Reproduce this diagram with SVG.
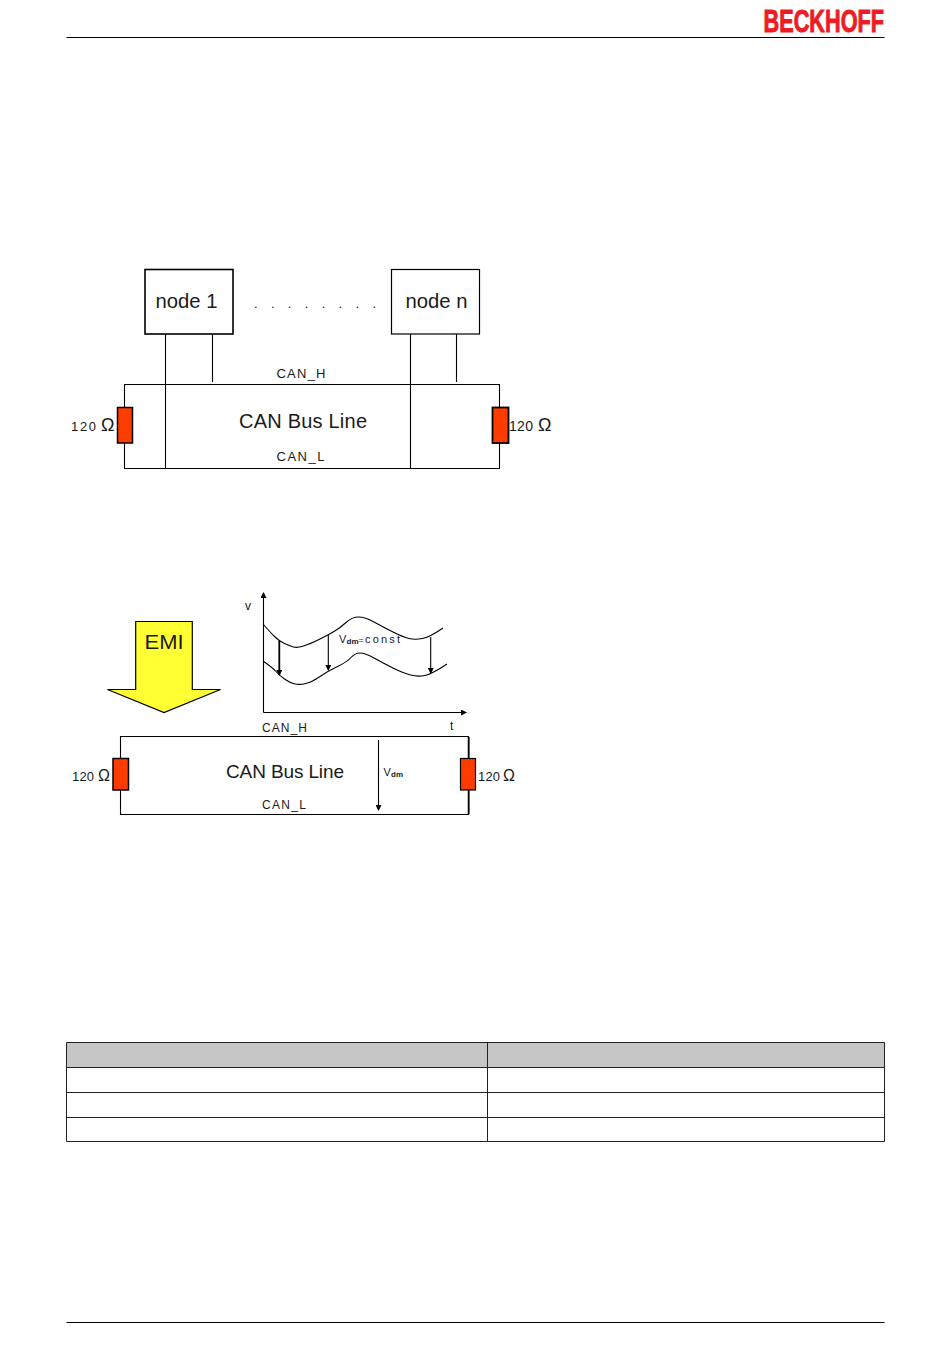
<svg xmlns="http://www.w3.org/2000/svg" width="950" height="1369" viewBox="0 0 950 1369">
<defs>
<marker id="ah" markerWidth="6" markerHeight="6" refX="5" refY="3" orient="auto" markerUnits="userSpaceOnUse"><path d="M0,0 L6,3 L0,6 Z" fill="#000"/></marker>
</defs>
<style>
text{font-family:"Liberation Sans",Arial,sans-serif;fill:#1a1a1a}
.o{font-size:18px}
.l{fill:none;stroke:#000;stroke-width:1.1}
.a{fill:none;stroke:#000;stroke-width:1.1;marker-end:url(#ah)}
.box{fill:#fff;stroke:#000;stroke-width:1.2}
.r{fill:#ff3c00;stroke:#000;stroke-width:1.5}
.t{fill:none;stroke:#222;stroke-width:1}
.s{font-size:8px;font-weight:700}
</style>
<rect width="950" height="1369" fill="#fff"/>
<g id="header">
<text x="763.500" y="32" font-size="32" font-weight="700" textLength="120.500" lengthAdjust="spacingAndGlyphs" style="fill:#ed1c24;stroke:#ed1c24;stroke-width:1">BECKHOFF</text>
<path class="l" d="M66.500 37.500H884.500"/>
</g>
<g id="footer"><path class="l" d="M66.500 1322.500H884.500"/></g>

<g id="connectors">
<path class="l" d="M124.500 407V384.500H499.500V407M124.500 443V468.500H499.500V443"/>
<path class="l" d="M165.500 334V468.500M212.500 334V382M410.500 334V468.500M456.500 334V382"/>
<path class="l" d="M120.500 758V736.500H468.500V758M120.500 790V814.500H468.500V790"/>
<path class="l" style="stroke-width:1.8" d="M468.700 737V758M468.700 790V814"/>
<path class="a" d="M378.500 740V810"/>
<path class="a" d="M263.500 712.500V593"/>
<path class="a" d="M263.500 712.500H466"/>
<path class="l" d="M263 624Q270 632 274.500 636.500Q279 641 284.500 643.500Q290 646 293.500 647Q297 648 303.500 646Q310 644 319 639.500Q328 635 334 631.500Q340 628 346 622.500Q352 617 358.500 617Q365 617 374 622Q383 627 393 632Q403 637 409 638.500Q415 640 422.500 638.500Q430 637 443 628"/>
<path class="l" d="M263 661Q273 668 276 671.500Q279 675 284.500 679Q290 683 295 684Q300 685 306 683.500Q312 682 320 676.500Q328 671 337.500 666.500Q347 662 351 657.500Q355 653 360 653Q365 653 374 658Q383 663 393 668Q403 673 410.500 675Q418 677 425 675.500Q432 674 447 664"/>
<path class="a" style="stroke-width:1.8" d="M279.300 641V675"/>
<path class="a" d="M328.300 635V670"/>
<path class="a" d="M430.700 637V673"/>
</g>

<g id="node1"><rect class="box" style="stroke-width:1.6" x="145" y="269.500" width="88" height="64.500"/><text x="155.500" y="308" font-size="19.500" textLength="62" lengthAdjust="spacingAndGlyphs">node 1</text></g>
<g id="noden"><rect class="box" x="391.500" y="269.500" width="88" height="64.500"/><text x="405.500" y="308" font-size="19.500" textLength="62" lengthAdjust="spacingAndGlyphs">node n</text></g>
<g id="dots"><text x="254" y="308" font-size="13" textLength="122">. . . . . . . .</text></g>
<g id="bus1">
<text x="239" y="428" font-size="20" textLength="128">CAN Bus Line</text>
<text x="276.500" y="378" font-size="13" textLength="49">CAN_H</text>
<text x="276.500" y="461" font-size="13" textLength="48">CAN_L</text>
</g>
<g id="r1"><rect class="r" x="117.500" y="407.500" width="15" height="35.500"/><text x="71" y="431" font-size="13"><tspan textLength="25">120</tspan><tspan class="o" x="101">Ω</tspan></text></g>
<g id="r2"><rect class="r" style="stroke-width:1.8" x="492.500" y="407.500" width="16" height="35.500"/><text x="509" y="431" font-size="14"><tspan textLength="24">120</tspan><tspan class="o" x="538">Ω</tspan></text></g>

<g id="emi"><path d="M135.700 621.500H192.300V689.500H220.500L164 712.500L107.500 689.500H135.700Z" fill="#ffff33" stroke="#000" stroke-width="1.200"/><text x="144.500" y="649" font-size="20" textLength="39" lengthAdjust="spacingAndGlyphs">EMI</text></g>
<g id="chart-labels">
<text x="245" y="610" font-size="12">v</text>
<text x="450" y="730" font-size="12">t</text>
<text y="643" font-size="11"><tspan x="339">V</tspan><tspan class="s" x="346.500" dy="1">dm</tspan><tspan x="358.500" dy="-1" font-size="9">=</tspan><tspan x="365" textLength="35">const</tspan></text>
</g>
<g id="bus2">
<text x="226" y="778" font-size="19" textLength="118">CAN Bus Line</text>
<text x="262" y="732" font-size="12" textLength="45">CAN_H</text>
<text x="262" y="809" font-size="12" textLength="44">CAN_L</text>
<text y="776" font-size="11"><tspan x="383.500">V</tspan><tspan class="s" x="391" dy="1">dm</tspan></text>
</g>
<g id="r3"><rect class="r" x="113" y="758.500" width="15.500" height="31.500"/><text x="72" y="781" font-size="13"><tspan textLength="22">120</tspan><tspan class="o" style="font-size:16px" x="98">Ω</tspan></text></g>
<g id="r4"><rect class="r" style="stroke-width:1.2" x="460.500" y="758.500" width="15" height="31.500"/><text x="478" y="781" font-size="13"><tspan textLength="22">120</tspan><tspan class="o" style="font-size:16px" x="503">Ω</tspan></text></g>

<g id="table">
<rect x="66.500" y="1042.500" width="818" height="25" fill="#c6c6c6"/>
<path class="t" d="M66.500 1042.500H884.500V1141.500H66.500ZM66.500 1067.500H884.500M66.500 1092.500H884.500M66.500 1117.500H884.500M487.500 1042.500V1141.500"/>
</g>
</svg>
